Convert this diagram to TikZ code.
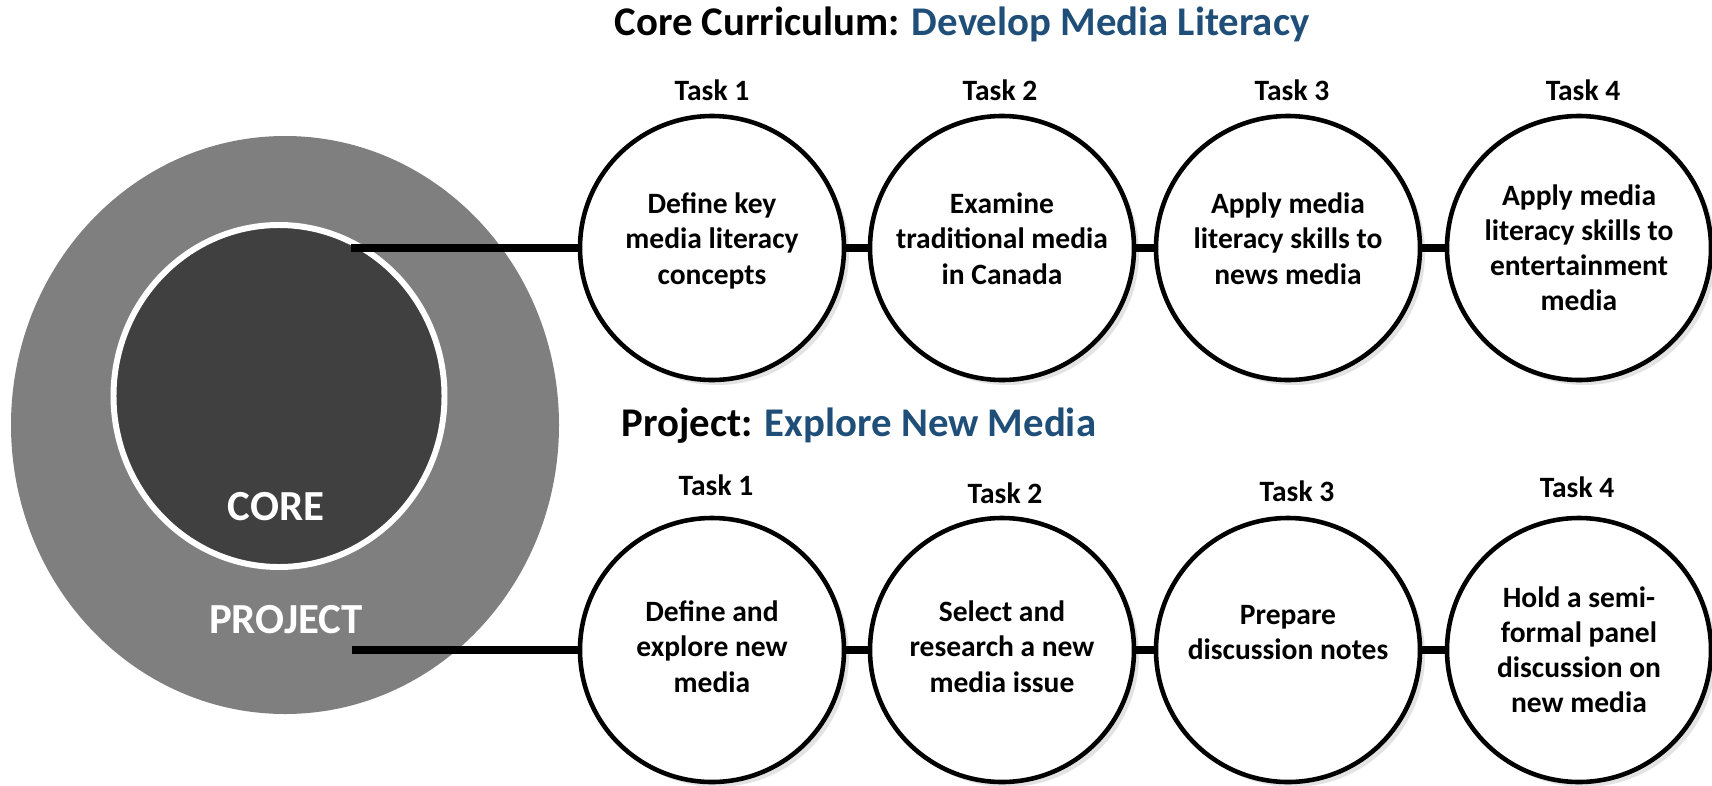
\documentclass[tikz,border=0pt]{standalone}
\usepackage{fontspec}
\setmainfont{Carlito}
\usetikzlibrary{shapes.geometric,shadows}

\definecolor{ringgray}{HTML}{7F7F7F}
\definecolor{coregray}{HTML}{404040}
\definecolor{titleblue}{HTML}{1F4E79}

\tikzset{
  task/.style={circle,draw,line width=1.3pt,fill=white,minimum size=2.64cm,inner sep=0pt,
    align=center,font=\bfseries\fontsize{8.4}{10}\selectfont,
    drop shadow={shadow xshift=0.05cm,shadow yshift=-0.05cm,fill=black!22}},
  tasklabel/.style={font=\bfseries\fontsize{8.4}{10}\selectfont},
  heading/.style={anchor=west,inner sep=0pt,font=\bfseries\fontsize{11.6}{13}\selectfont},
  ringtext/.style={text=white,font=\bfseries\fontsize{12.2}{14}\selectfont},
  link/.style={line width=2.4pt}
}

\begin{document}
\begin{tikzpicture}
    \useasboundingbox (0,0) rectangle (17.12,-7.85);

    % project ring with the core inside
    \node (project) at (2.85,-4.25) [ellipse,fill=ringgray,minimum width=5.48cm,minimum height=5.78cm,inner sep=0pt] {};
    \node (core) at (2.79,-3.96) [ellipse,fill=coregray,draw=white,line width=1.7pt,minimum width=3.31cm,minimum height=3.42cm,inner sep=0pt] {};
    \node (corename) at (2.76,-5.07) [ringtext] {CORE};
    \node (projname) at (2.86,-6.20) [ringtext] {PROJECT};

    % headings
    \node (corehead) at (6.14,-0.24) [heading] {Core Curriculum: \textcolor{titleblue}{Develop Media Literacy}};
    \node (projhead) at (6.21,-4.26) [heading] {Project: \textcolor{titleblue}{Explore New Media}};

    % core curriculum tasks
    \node (t1) at (7.12,-2.48) [task,text depth=0.19cm] {Define key\\media literacy\\concepts};
    \node (t2) at (10.02,-2.48) [task,text depth=0.19cm] {Examine\\traditional media\\in Canada};
    \node (t3) at (12.88,-2.48) [task,text depth=0.19cm] {Apply media\\literacy skills to\\news media};
    \node (t4) at (15.79,-2.48) [task] {Apply media\\literacy skills to\\entertainment\\media};

    \node (t1lab) at (7.12,-0.90) [tasklabel] {Task 1};
    \node (t2lab) at (10.00,-0.90) [tasklabel] {Task 2};
    \node (t3lab) at (12.92,-0.90) [tasklabel] {Task 3};
    \node (t4lab) at (15.83,-0.90) [tasklabel] {Task 4};

    % project tasks
    \node (p1) at (7.12,-6.50) [task,text depth=0.07cm] {Define and\\explore new\\media};
    \node (p2) at (10.02,-6.50) [task,text depth=0.07cm] {Select and\\research a new\\media issue};
    \node (p3) at (12.88,-6.50) [task,text depth=0.36cm] {Prepare\\discussion notes};
    \node (p4) at (15.79,-6.50) [task] {Hold a semi-\\formal panel\\discussion on\\new media};

    \node (p1lab) at (7.16,-4.85) [tasklabel] {Task 1};
    \node (p2lab) at (10.05,-4.93) [tasklabel] {Task 2};
    \node (p3lab) at (12.97,-4.91) [tasklabel] {Task 3};
    \node (p4lab) at (15.77,-4.87) [tasklabel] {Task 4};

    % connectors
    \coordinate (corepin) at (3.51,-2.48);
    \coordinate (projpin) at (3.52,-6.50);
    \draw[link] (corepin) -- (t1.west);
    \draw[link] (projpin) -- (p1.west);
    \foreach \a/\b in {t1/t2,t2/t3,t3/t4,p1/p2,p2/p3,p3/p4}
        \draw[link] (\a.east) -- (\b.west);
\end{tikzpicture}
\end{document}
